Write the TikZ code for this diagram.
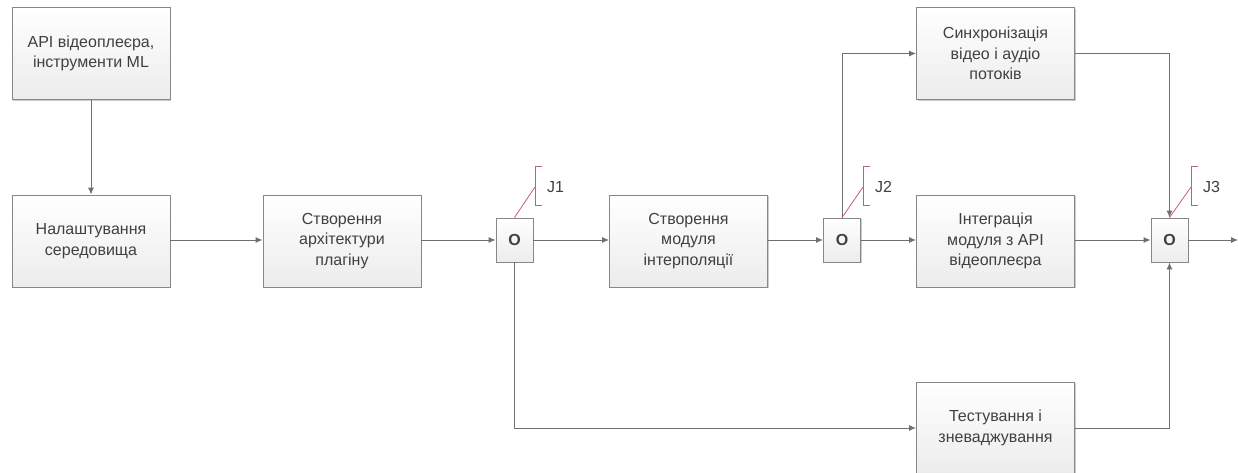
\documentclass[tikz,border=0pt]{standalone}
\usepackage{fontspec}
\setmainfont{Liberation Sans}
\usetikzlibrary{shadows,arrows.meta}
\definecolor{txt}{RGB}{64,64,64}
\definecolor{ln}{RGB}{112,112,112}
\definecolor{bd}{RGB}{135,135,135}
\definecolor{lbl}{RGB}{196,96,112}
\tikzset{
  procbox/.style={draw=bd, line width=0.9pt, rectangle, top color=white, bottom color={rgb,255:red,236;green,236;blue,236},
    drop shadow={shadow xshift=1.2pt, shadow yshift=-1.2pt, opacity=0.2, fill=black},
    minimum width=158pt, minimum height=92pt, inner sep=0pt, align=center, text=txt,
    font=\fontsize{16}{20.5}\selectfont},
  junc/.style={procbox, minimum width=37pt, minimum height=44pt, font=\fontsize{16}{18}\selectfont\bfseries},
  conn/.style={draw=ln, line width=0.9pt, -{Latex[length=7pt,width=6pt]}},
  plain/.style={draw=ln, line width=0.9pt},
  lblline/.style={draw=lbl, line width=0.8pt},
  lbltext/.style={anchor=west, text=txt, font=\fontsize{16}{18}\selectfont, inner sep=0pt}
}
\begin{document}
\begin{tikzpicture}[x=1pt,y=-1pt]
\useasboundingbox (0,0) rectangle (1238,473);
\node[procbox] (api) at (91,53.5) {API відеоплеєра,\\інструменти ML};
\node[procbox] (env) at (91,241) {Налаштування\\середовища};
\node[procbox] (arch) at (342,241) {Створення\\архітектури\\плагіну};
\node[junc] (j1) at (514.5,240) {O};
\node[procbox] (interp) at (688.5,241) {Створення\\модуля\\інтерполяції};
\node[junc] (j2) at (842,240) {O};
\node[procbox] (sync) at (995.5,53.5) {Синхронізація\\відео і аудіо\\потоків};
\node[procbox] (integ) at (995.5,241) {Інтеграція\\модуля з API\\відеоплеєра};
\node[junc] (j3) at (1169.5,240) {O};
\node[procbox] (test) at (995.5,428) {Тестування і\\зневаджування};
\coordinate (out) at (1238,240);

\draw[conn] (api) -- (env);
\draw[conn] (env.east |- 0,240) -- (arch.west |- 0,240);
\draw[conn] (arch.east |- 0,240) -- (j1);
\draw[conn] (j1) -- (interp.west |- 0,240);
\draw[conn] (interp.east |- 0,240) -- (j2);
\draw[conn] (j2) -- (integ.west |- 0,240);
\draw[conn] (integ.east |- 0,240) -- (j3);
\draw[conn] (j3) -- (out);
\draw[conn] (j2.north) |- (sync.west);
\draw[conn] (sync.east) -| (j3.north);
\draw[conn] (j1.south) |- (test.west);
\draw[conn] (test.east) -| (j3.south);

% junction labels
\coordinate (b1) at (535,187);
\draw[lblline] (j1.north) -- (b1);
\draw[lblline] (542,166) -- (535,166) -- (535,205) -- (542,205);
\node[lbltext] (l1) at (547,187) {J1};
\coordinate (b2) at (863,187);
\draw[lblline] (j2.north) -- (b2);
\draw[lblline] (870,166) -- (863,166) -- (863,205) -- (870,205);
\node[lbltext] (l2) at (875,187) {J2};
\coordinate (b3) at (1191,187);
\draw[lblline] (j3.north) -- (b3);
\draw[lblline] (1198,166) -- (1191,166) -- (1191,205) -- (1198,205);
\node[lbltext] (l3) at (1203,187) {J3};
\end{tikzpicture}
\end{document}
